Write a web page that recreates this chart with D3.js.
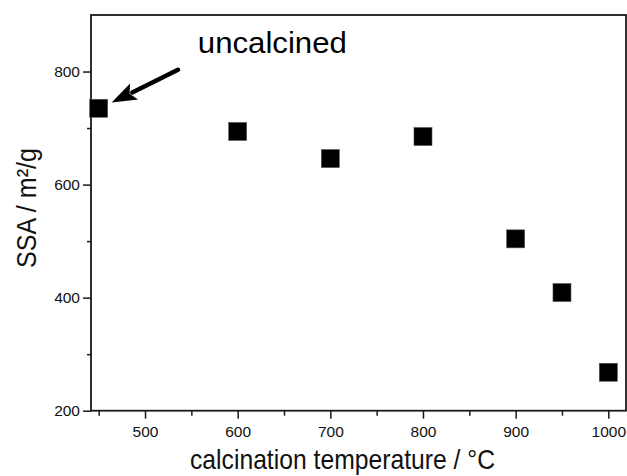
<!DOCTYPE html>
<html><head><meta charset="utf-8">
<script src="https://cdn.jsdelivr.net/npm/d3@7"></script>
<style>
html,body{margin:0;padding:0;background:#fff;}
svg{display:block;font-family:"Liberation Sans",Arial,sans-serif;}
</style></head>
<body><svg id="c" width="627" height="476"></svg>
<script>
// data
const temperatures = [450, 600, 700, 800, 900, 950, 1000];
const ssaValues = [735, 694, 646, 685, 504, 409, 268];
const xTicks = [500, 600, 700, 800, 900, 1000];
const xMinorTicks = [450, 550, 650, 750, 850, 950];
const yTicks = [200, 400, 600, 800];
const yMinorTicks = [300, 500, 700];
const xTitle = "calcination temperature / \u00B0C";
const yTitle = "SSA / m\u00B2/g";
const annotationText = "uncalcined";
const arrowTail = [535.6, 803];
const arrowTip = [464, 745];
const annotationPos = [557, 833];

const svg = d3.select("#c");
const L = 91, R = 626, T = 15, B = 410.7;
const x = d3.scaleLinear().domain([441.7, 1019.1]).range([L, R]);
const y = d3.scaleLinear().domain([200, 900]).range([B, T]);
const axisColor = "#1a1a1a";
const ff = "Liberation Sans, Arial, sans-serif";

// frame
svg.append("rect").attr("x", L).attr("y", T).attr("width", R - L).attr("height", B - T)
  .attr("fill", "none").attr("stroke", axisColor).attr("stroke-width", 1.8);

// x axis
const gx = svg.append("g").attr("transform", `translate(0,${B})`)
  .call(d3.axisBottom(x).tickValues(xTicks).tickSize(8).tickPadding(7).tickFormat(d3.format("d")));
gx.select(".domain").remove();
gx.selectAll("line").attr("stroke", axisColor).attr("stroke-width", 1.5);
gx.selectAll("text").attr("font-size", 15.5).attr("fill", "#111").attr("font-family", ff);
const gxm = svg.append("g").attr("transform", `translate(0,${B})`)
  .call(d3.axisBottom(x).tickValues(xMinorTicks).tickSize(5).tickFormat(""));
gxm.select(".domain").remove();
gxm.selectAll("line").attr("stroke", axisColor).attr("stroke-width", 1.5);

// y axis
const gy = svg.append("g").attr("transform", `translate(${L},0)`)
  .call(d3.axisLeft(y).tickValues(yTicks).tickSize(8).tickPadding(3).tickFormat(d3.format("d")));
gy.select(".domain").remove();
gy.selectAll("line").attr("stroke", axisColor).attr("stroke-width", 1.5);
gy.selectAll("text").attr("font-size", 15.5).attr("fill", "#111").attr("font-family", ff);
const gym = svg.append("g").attr("transform", `translate(${L},0)`)
  .call(d3.axisLeft(y).tickValues(yMinorTicks).tickSize(4).tickFormat(""));
gym.select(".domain").remove();
gym.selectAll("line").attr("stroke", axisColor).attr("stroke-width", 1.5);

// axis titles
svg.append("text").attr("x", 190).attr("y", 469).attr("font-size", 28).attr("fill", "#111")
  .attr("textLength", 305).attr("lengthAdjust", "spacingAndGlyphs").text(xTitle);

svg.append("text").attr("transform", "translate(36,268) rotate(-90)")
  .attr("font-size", 27).attr("fill", "#111")
  .attr("textLength", 120).attr("lengthAdjust", "spacingAndGlyphs").text(yTitle);

// markers
const s = 18;
svg.append("g").selectAll("rect").data(temperatures.map((t, i) => [t, ssaValues[i]]))
  .join("rect")
  .attr("x", d => x(d[0]) - s / 2).attr("y", d => y(d[1]) - s / 2)
  .attr("width", s).attr("height", s)
  .attr("fill", "#000").attr("stroke", "#555").attr("stroke-width", 0.6);

// annotation
svg.append("text").attr("x", x(annotationPos[0])).attr("y", y(annotationPos[1]))
  .attr("font-size", 30).attr("fill", "#000")
  .attr("textLength", 149).attr("lengthAdjust", "spacingAndGlyphs").text(annotationText);

const tx = x(arrowTail[0]), ty = y(arrowTail[1]);
const hx = x(arrowTip[0]), hy = y(arrowTip[1]);
const dx = tx - hx, dy = ty - hy, len = Math.hypot(dx, dy);
const ux = dx / len, uy = dy / len, px = -uy, py = ux;
const headLen = 25, headW = 9;
const bx = hx + ux * headLen, by = hy + uy * headLen;
svg.append("line").attr("x1", tx).attr("y1", ty).attr("x2", bx - ux * 2).attr("y2", by - uy * 2)
  .attr("stroke", "#000").attr("stroke-width", 4.5).attr("stroke-linecap", "round");
svg.append("path")
  .attr("d", `M${hx},${hy} L${bx + px * headW},${by + py * headW} L${hx + ux * (headLen - 5)},${hy + uy * (headLen - 5)} L${bx - px * headW},${by - py * headW} Z`)
  .attr("fill", "#000");
</script></body></html>
